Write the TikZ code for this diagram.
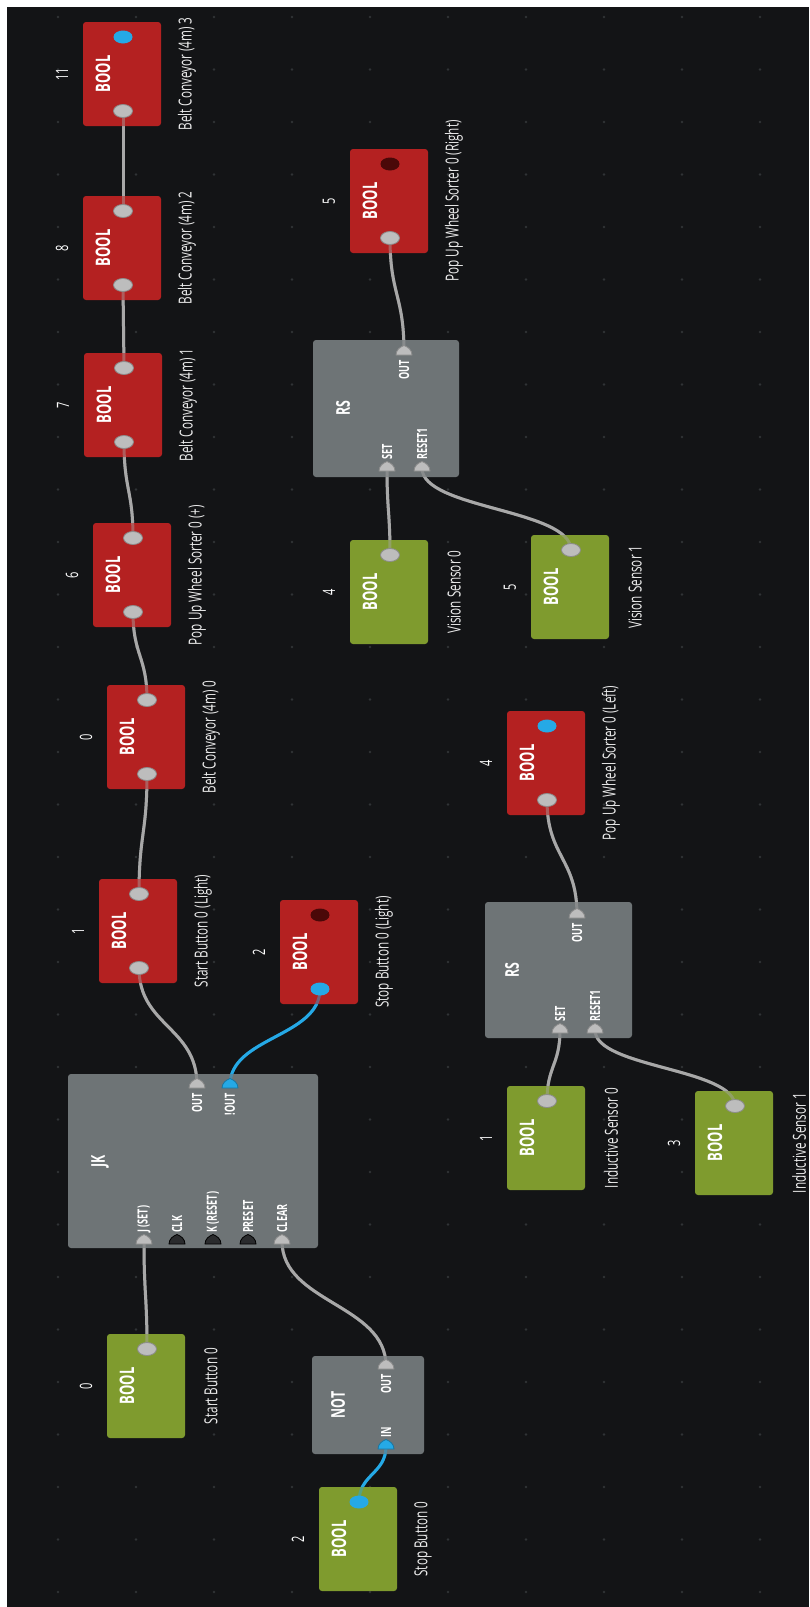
\documentclass[tikz,border=0pt]{standalone}
\usepackage{fontspec}
\setmainfont{Open Sans}
\newfontfamily\uifont[FakeStretch=0.65]{Open Sans}
\usetikzlibrary{shapes.geometric,calc}

\definecolor{bg}{HTML}{131416}
\definecolor{griddot}{HTML}{303336}
\definecolor{redbox}{HTML}{B42121}
\definecolor{greenbox}{HTML}{7F9B2E}
\definecolor{gatebox}{HTML}{6E7476}
\definecolor{dotgray}{HTML}{BDBDBD}
\definecolor{dotedge}{HTML}{8C8C8C}
\definecolor{sigblue}{HTML}{25A9E6}
\definecolor{darkdot}{HTML}{4A0808}
\definecolor{wiregray}{HTML}{A8A8A8}
\definecolor{captext}{HTML}{ECECEC}
\definecolor{portdark}{HTML}{2A2B2D}

\pgfdeclarelayer{wireslow}
\pgfdeclarelayer{boxes}
\pgfdeclarelayer{wireshigh}
\pgfsetlayers{wireslow,boxes,wireshigh,main}

\tikzset{
  boolbox/.style={rounded corners=3pt, minimum width=78pt, minimum height=104pt, inner sep=0pt},
  redbox/.style={boolbox, fill=redbox},
  greenbox/.style={boolbox, fill=greenbox},
  gatebox/.style={rounded corners=3pt, fill=gatebox, inner sep=0pt},
  booltext/.style={rotate=90, text=white, inner sep=0pt, font=\uifont\bfseries\fontsize{20}{22}\selectfont},
  idxtext/.style={rotate=90, text=white, inner sep=0pt, font=\uifont\fontsize{17}{19}\selectfont},
  captext/.style={rotate=90, text=captext, inner sep=0pt, font=\uifont\fontsize{18}{20}\selectfont},
  gatetitle/.style={rotate=90, text=white, inner sep=0pt, font=\uifont\bfseries\fontsize{19}{21}\selectfont},
  portlab/.style={rotate=90, text=white, inner sep=0pt, font=\uifont\bfseries\fontsize{14}{16}\selectfont},
  dot/.style={ellipse, minimum width=19pt, minimum height=13pt, inner sep=0pt},
  graydot/.style={dot, fill=dotgray, draw=dotedge, line width=0.8pt},
  bluedot/.style={dot, fill=sigblue},
  darkdot/.style={dot, fill=darkdot},
  wire/.style={draw=wiregray, line width=3pt, line cap=round},
  bluewire/.style={draw=sigblue, line width=3pt, line cap=round},
  pics/port/.style={code={
    \path[pic actions] (-8,3) .. controls (-8,-2) and (-4,-5) .. (0,-6.5)
      .. controls (4,-5) and (8,-2) .. (8,3) -- cycle;}},
  grayport/.style={fill=dotgray, draw=dotedge, line width=0.8pt},
  blueport/.style={fill=sigblue, draw=sigblue!70!black, line width=0.8pt},
  darkport/.style={fill=portdark, draw=black, line width=0.8pt},
}

% one BOOL tag: box, type text, index, caption
\newcommand\boolblock[6]{%
  \begin{pgfonlayer}{boxes}
    \node[#2] (#1) at (#3,#4) {};
  \end{pgfonlayer}
  \node[booltext] (#1-t) at ($(#1)+(-19,0)$) {BOOL};
  \node[idxtext] (#1-n) at ($(#1)+(-60,0)$) {#5};
  \node[captext] (#1-c) at ($(#1)+(65,0)$) {#6};
}

% all links between ports
\newcommand\wiring{%
  \draw[wire] (bc3-i.center) .. controls +(0,50) and +(0,-50) .. (bc2-o.center);
  \draw[wire] (bc2-i.center) .. controls +(0,42) and +(0,-42) .. (bc1-o.center);
  \draw[wire] (bc1-i.center) .. controls +(0,48) and +(0,-48) .. (pus-o.center);
  \draw[wire] (pus-i.center) .. controls +(0,44) and +(0,-44) .. (bc0-o.center);
  \draw[wire] (bc0-i.center) .. controls +(0,60) and +(0,-60) .. (sbl-o.center);
  \draw[wire] (sbl-i.center) .. controls +(0,58) and +(0,-58) .. (jk-q);
  \draw[bluewire] (stl-i.center) .. controls +(0,48) and +(0,-48) .. (jk-nq);
  \draw[wire] (jk-j) .. controls +(0,54) and +(0,-54) .. (sb0-o.center);
  \draw[wire] (jk-clr) .. controls +(0,62) and +(0,-62) .. (not-q);
  \draw[bluewire] (not-i) .. controls +(0,28) and +(0,-28) .. (stopb0-o.center);
  \draw[wire] (pur-i.center) .. controls +(0,57) and +(0,-57) .. (rsa-q);
  \draw[wire] (rsa-s) .. controls +(0,43) and +(0,-43) .. (vs0-o.center);
  \draw[wire] (rsa-r) .. controls +(0,41) and +(0,-41) .. (vs1-o.center);
  \draw[wire] (pul-i.center) .. controls +(0,57) and +(0,-57) .. (rsb-q);
  \draw[wire] (rsb-s) .. controls +(0,35) and +(0,-35) .. (is0-o.center);
  \draw[wire] (rsb-r) .. controls +(0,38) and +(0,-38) .. (is1-o.center);
}

\begin{document}
\begin{tikzpicture}[x=1pt,y=-1pt]
\useasboundingbox (0,0) rectangle (809,1607);
\begin{pgfonlayer}{wireslow}
  \fill[white] (0,0) rectangle (809,1607);
  \fill[bg] (7,7) rectangle (809,1607);
  \foreach \i in {0,...,9}
    \foreach \j in {0,...,30}
      \fill[griddot] (58+78*\i, 17+52.5*\j) circle (1.4pt);
\end{pgfonlayer}

% ---- BOOL tags ----
\boolblock{bc3}{redbox}{122}{74}{11}{Belt Conveyor (4m) 3}
\boolblock{bc2}{redbox}{122}{248}{8}{Belt Conveyor (4m) 2}
\boolblock{bc1}{redbox}{123}{405}{7}{Belt Conveyor (4m) 1}
\boolblock{pus}{redbox}{132}{575}{6}{Pop Up Wheel Sorter 0 (+)}
\boolblock{bc0}{redbox}{146}{737}{0}{Belt Conveyor (4m) 0}
\boolblock{sbl}{redbox}{138}{931}{1}{Start Button 0 (Light)}
\boolblock{stl}{redbox}{319}{952}{2}{Stop Button 0 (Light)}
\boolblock{pur}{redbox}{389}{201}{5}{Pop Up Wheel Sorter 0 (Right)}
\boolblock{pul}{redbox}{546}{763}{4}{Pop Up Wheel Sorter 0 (Left)}
\boolblock{vs0}{greenbox}{389}{592}{4}{Vision Sensor 0}
\boolblock{vs1}{greenbox}{570}{587}{5}{Vision Sensor 1}
\boolblock{is0}{greenbox}{546}{1138}{1}{Inductive Sensor 0}
\boolblock{is1}{greenbox}{734}{1143}{3}{Inductive Sensor 1}
\boolblock{sb0}{greenbox}{146}{1386}{0}{Start Button 0}
\boolblock{stopb0}{greenbox}{358}{1539}{2}{Stop Button 0}

% value dots on the tags
\node[bluedot] (bc3-o) at ($(bc3)+(1,-37)$) {};
\node[graydot] (bc3-i) at ($(bc3)+(1,37)$) {};
\foreach \t in {bc2,bc1,pus,bc0,sbl,pul,pur}{
  \node[graydot] (\t-i) at ($(\t)+(1,37)$) {};
}
\foreach \t in {bc2,bc1,pus,bc0,sbl,vs0,vs1,is0,is1,sb0}{
  \node[graydot] (\t-o) at ($(\t)+(1,-37)$) {};
}
\node[darkdot] (stl-o) at ($(stl)+(1,-37)$) {};
\node[bluedot] (stl-i) at ($(stl)+(1,37)$) {};
\node[darkdot] (pur-o) at ($(pur)+(1,-37)$) {};
\node[bluedot] (pul-o) at ($(pul)+(1,-37)$) {};
\node[bluedot] (stopb0-o) at ($(stopb0)+(1,-37)$) {};

% ---- logic blocks ----
\begin{pgfonlayer}{boxes}
  \node[gatebox, minimum width=250pt, minimum height=174pt] (jk) at (193,1161) {};
  \node[gatebox, minimum width=112pt, minimum height=98pt] (not) at (368,1405) {};
  \node[gatebox, minimum width=146pt, minimum height=137pt] (rsa) at (386,408.5) {};
  \node[gatebox, minimum width=147pt, minimum height=136pt] (rsb) at (558.5,970) {};
\end{pgfonlayer}

% JK flip-flop
\node[gatetitle] (jk-t) at (100,1161) {JK};
\coordinate (jk-q) at (197,1085);
\coordinate (jk-nq) at (230,1085);
\coordinate (jk-j) at (144,1241);
\coordinate (jk-clk) at (177,1241);
\coordinate (jk-k) at (213,1241);
\coordinate (jk-pre) at (248,1241);
\coordinate (jk-clr) at (282,1241);
\pic[grayport] at (jk-q) {port};
\pic[blueport] at (jk-nq) {port};
\pic[grayport] at (jk-j) {port};
\pic[darkport] at (jk-clk) {port};
\pic[darkport] at (jk-k) {port};
\pic[darkport] at (jk-pre) {port};
\pic[grayport] at (jk-clr) {port};
\node[portlab, anchor=east] (jk-q-l) at ($(jk-q)+(0,8)$) {OUT};
\node[portlab, anchor=east] (jk-nq-l) at ($(jk-nq)+(0,8)$) {!OUT};
\node[portlab, anchor=west] (jk-j-l) at ($(jk-j)+(0,-8)$) {J (SET)};
\node[portlab, anchor=west] (jk-clk-l) at ($(jk-clk)+(0,-8)$) {CLK};
\node[portlab, anchor=west] (jk-k-l) at ($(jk-k)+(0,-8)$) {K (RESET)};
\node[portlab, anchor=west] (jk-pre-l) at ($(jk-pre)+(0,-8)$) {PRESET};
\node[portlab, anchor=west] (jk-clr-l) at ($(jk-clr)+(0,-8)$) {CLEAR};

% NOT gate
\node[gatetitle] (not-t) at (338,1405) {NOT};
\coordinate (not-q) at (386,1366);
\coordinate (not-i) at (386,1446);
\pic[grayport] at (not-q) {port};
\pic[blueport] at (not-i) {port};
\node[portlab, anchor=east] (not-q-l) at ($(not-q)+(0,8)$) {OUT};
\node[portlab, anchor=west] (not-i-l) at ($(not-i)+(0,-8)$) {IN};

% RS latches
\node[gatetitle] (rsa-t) at (343,408.5) {RS};
\coordinate (rsa-q) at (404,352);
\coordinate (rsa-s) at (387,468);
\coordinate (rsa-r) at (422,468);
\pic[grayport] at (rsa-q) {port};
\pic[grayport] at (rsa-s) {port};
\pic[grayport] at (rsa-r) {port};
\node[portlab, anchor=east] (rsa-q-l) at ($(rsa-q)+(0,8)$) {OUT};
\node[portlab, anchor=west] (rsa-s-l) at ($(rsa-s)+(0,-8)$) {SET};
\node[portlab, anchor=west] (rsa-r-l) at ($(rsa-r)+(0,-8)$) {RESET1};

\node[gatetitle] (rsb-t) at (512,970) {RS};
\coordinate (rsb-q) at (577,915);
\coordinate (rsb-s) at (560,1030);
\coordinate (rsb-r) at (595,1030);
\pic[grayport] at (rsb-q) {port};
\pic[grayport] at (rsb-s) {port};
\pic[grayport] at (rsb-r) {port};
\node[portlab, anchor=east] (rsb-q-l) at ($(rsb-q)+(0,8)$) {OUT};
\node[portlab, anchor=west] (rsb-s-l) at ($(rsb-s)+(0,-8)$) {SET};
\node[portlab, anchor=west] (rsb-r-l) at ($(rsb-r)+(0,-8)$) {RESET1};

% ---- links: solid under the blocks, translucent over them ----
\begin{pgfonlayer}{wireslow}
  \wiring
\end{pgfonlayer}
\begin{pgfonlayer}{wireshigh}
  \begin{scope}[opacity=0.45]
    \wiring
  \end{scope}
\end{pgfonlayer}
\end{tikzpicture}
\end{document}
